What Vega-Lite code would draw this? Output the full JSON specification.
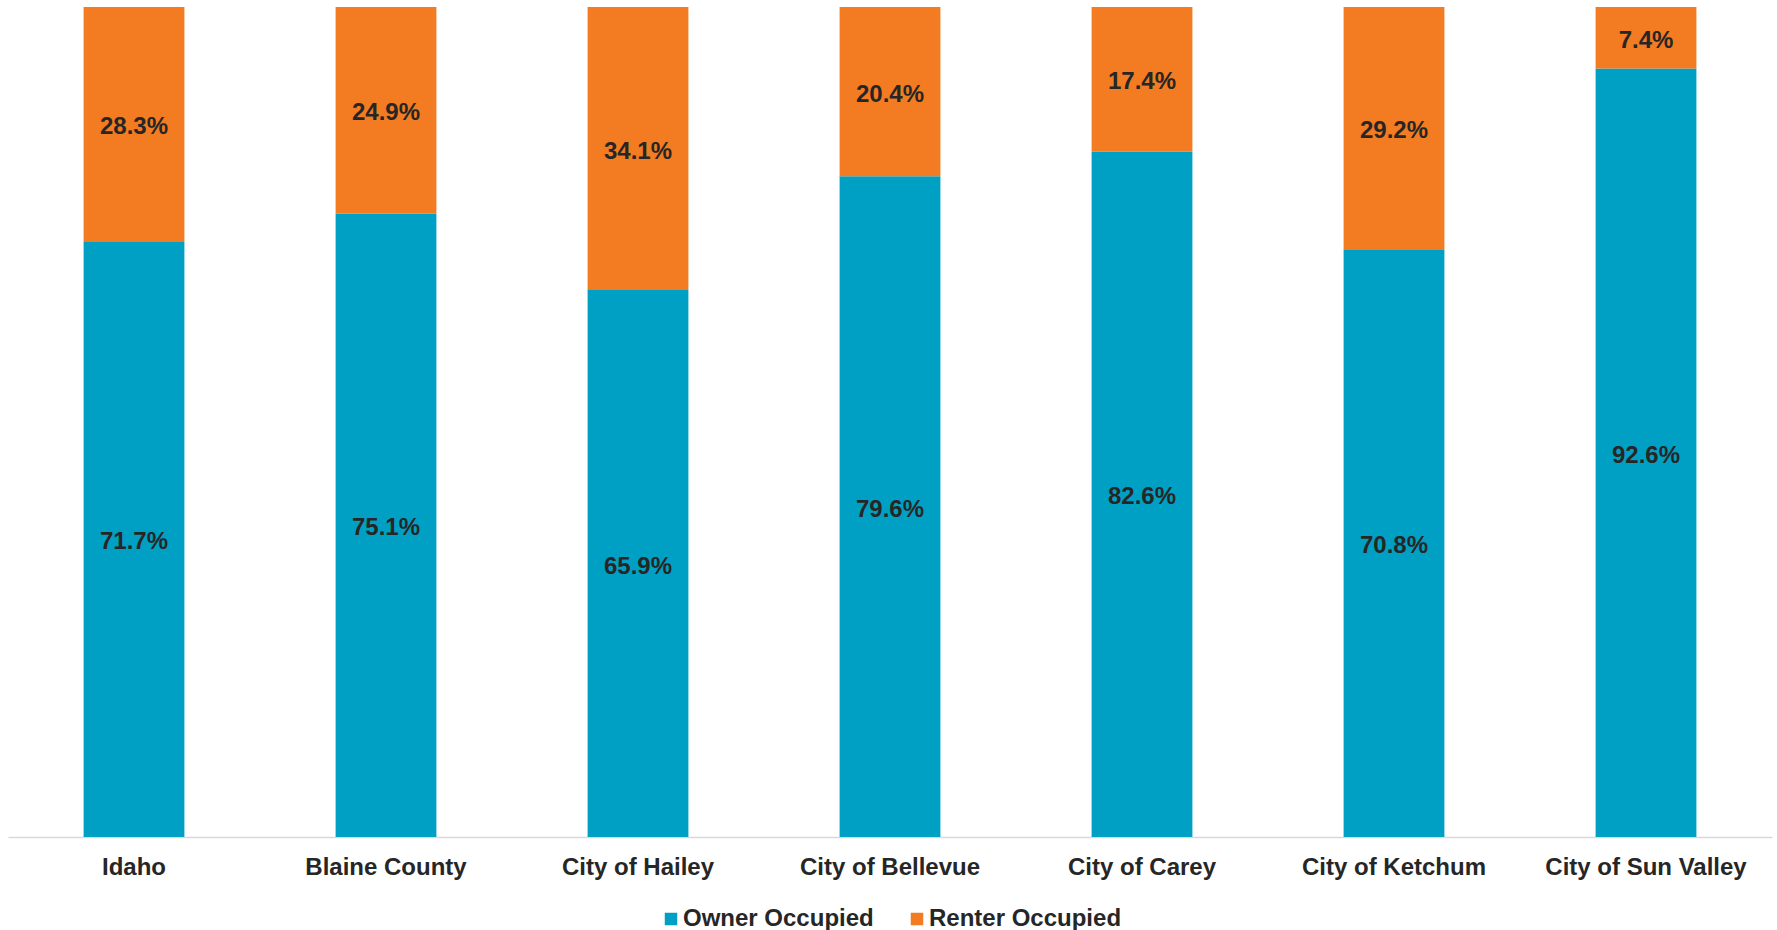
{
  "$schema": "https://vega.github.io/schema/vega-lite/v6.json",
  "width": 1764,
  "height": 830,
  "padding": {"left": 8, "top": 7, "right": 4, "bottom": 0},
  "background": "white",
  "data": {
    "values": [
      {"place": "Idaho", "tenure": "Owner Occupied", "share": 0.717},
      {"place": "Idaho", "tenure": "Renter Occupied", "share": 0.283},
      {"place": "Blaine County", "tenure": "Owner Occupied", "share": 0.751},
      {"place": "Blaine County", "tenure": "Renter Occupied", "share": 0.249},
      {"place": "City of Hailey", "tenure": "Owner Occupied", "share": 0.659},
      {"place": "City of Hailey", "tenure": "Renter Occupied", "share": 0.341},
      {"place": "City of Bellevue", "tenure": "Owner Occupied", "share": 0.796},
      {"place": "City of Bellevue", "tenure": "Renter Occupied", "share": 0.204},
      {"place": "City of Carey", "tenure": "Owner Occupied", "share": 0.826},
      {"place": "City of Carey", "tenure": "Renter Occupied", "share": 0.174},
      {"place": "City of Ketchum", "tenure": "Owner Occupied", "share": 0.708},
      {"place": "City of Ketchum", "tenure": "Renter Occupied", "share": 0.292},
      {"place": "City of Sun Valley", "tenure": "Owner Occupied", "share": 0.926},
      {"place": "City of Sun Valley", "tenure": "Renter Occupied", "share": 0.074}
    ]
  },
  "encoding": {
    "x": {
      "field": "place",
      "type": "nominal",
      "sort": null,
      "title": null,
      "scale": {"paddingInner": 0.6, "paddingOuter": 0.3},
      "axis": {
        "labelAngle": 0,
        "ticks": false,
        "labelPadding": 18,
        "labelFontSize": 24,
        "labelFontWeight": "bold",
        "labelFont": "Liberation Sans",
        "labelColor": "#262626",
        "labelLimit": 0,
        "domainColor": "#D9D9D9",
        "domainWidth": 1.5,
        "grid": false
      }
    },
    "y": {
      "field": "share",
      "type": "quantitative",
      "stack": "zero",
      "scale": {"domain": [0, 1], "nice": false},
      "axis": null
    },
    "order": {"field": "tenure", "sort": "ascending"}
  },
  "layer": [
    {
      "mark": {"type": "bar"},
      "encoding": {
        "color": {
          "field": "tenure",
          "type": "nominal",
          "title": null,
          "scale": {
            "domain": ["Owner Occupied", "Renter Occupied"],
            "range": ["#00A0C4", "#F37B21"]
          },
          "legend": {
            "orient": "bottom",
            "direction": "horizontal",
            "symbolType": "square",
            "symbolSize": 156,
            "symbolStrokeWidth": 0,
            "labelFontSize": 24,
            "labelFontWeight": "bold",
            "labelFont": "Liberation Sans",
            "labelColor": "#262626",
            "labelLimit": 0,
            "labelOffset": 0,
            "columnPadding": 31,
            "offset": 28,
            "padding": 0
          }
        }
      }
    },
    {
      "mark": {
        "type": "text",
        "font": "Liberation Sans",
        "fontSize": 24,
        "fontWeight": "bold",
        "color": "#262626",
        "baseline": "middle",
        "dy": 3
      },
      "encoding": {
        "y": {
          "field": "share",
          "type": "quantitative",
          "stack": "zero",
          "bandPosition": 0.5
        },
        "detail": {"field": "tenure"},
        "text": {"field": "share", "type": "quantitative", "format": ".1%"}
      }
    }
  ],
  "config": {
    "view": {"stroke": null},
    "legend": {"layout": {"bottom": {"anchor": "middle"}}}
  }
}
